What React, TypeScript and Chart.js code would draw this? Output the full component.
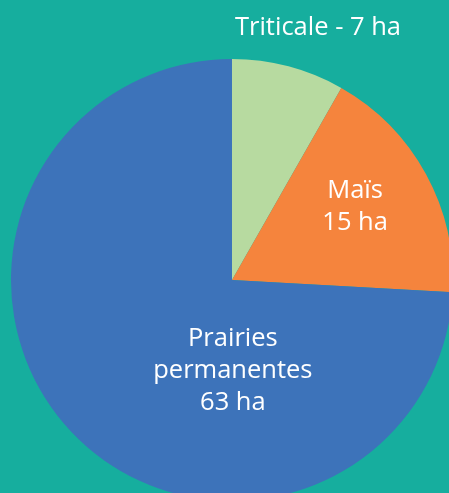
import React, { useEffect, useRef } from "react";
import { Chart, registerables } from "chart.js";

Chart.register(...registerables);

const categories = ["Triticale", "Maïs", "Prairies permanentes"];
const values = [7, 15, 63];
const labelLines = [["Triticale - 7 ha"], ["Maïs", "15 ha"], ["Prairies", "permanentes", "63 ha"]];
const colors = ["#B7DAA0", "#F5843D", "#3D73BA"];
const background = "#16AE9E";

// label anchors as fractions of radius relative to the pie centre
const labelAnchors = [
  { dx: 0.389, dy: -1.109 },
  { dx: 0.557, dy: -0.371 },
  { dx: 0.004, dy: 0.299 },
];
const lineHeightFrac = 0.145;
const FONT = '25.5px "Open Sans"';

const labelPlugin = {
  id: "pieLabels",
  afterDraw(chart: any) {
    const meta = chart.getDatasetMeta(0);
    const ctx = chart.ctx;
    ctx.save();
    ctx.fillStyle = "#ffffff";
    ctx.font = FONT;
    ctx.textAlign = "center";
    ctx.textBaseline = "alphabetic";
    meta.data.forEach((arc: any, i: number) => {
      const { x, y, outerRadius } = arc.getProps(["x", "y", "outerRadius"], true);
      const a = labelAnchors[i];
      const lx = x + a.dx * outerRadius;
      const ly = y + a.dy * outerRadius;
      labelLines[i].forEach((line, j) => {
        ctx.fillText(line, lx, ly + j * lineHeightFrac * outerRadius);
      });
    });
    ctx.restore();
  },
};

export default function App() {
  const ref = useRef<HTMLCanvasElement>(null);
  useEffect(() => {
    if (!ref.current) return;
    const chart = new Chart(ref.current, {
      type: "pie",
      data: {
        labels: categories,
        datasets: [
          {
            data: values,
            backgroundColor: colors,
            borderWidth: 0,
          },
        ],
      },
      options: {
        responsive: false,
        animation: false,
        layout: { padding: { left: 11, right: 11, top: 59, bottom: 59 } },
        plugins: {
          legend: { display: false },
          tooltip: { enabled: false },
        },
      },
      plugins: [labelPlugin],
    });
    return () => chart.destroy();
  }, []);
  return (
    <div
      style={{
        position: "fixed",
        left: 0,
        top: 0,
        width: 449,
        height: 493,
        overflow: "hidden",
        background,
      }}
    >
      <canvas
        ref={ref}
        width={464}
        height={560}
        style={{ position: "absolute", left: 0, top: 0, width: 464, height: 560 }}
      />
    </div>
  );
}
